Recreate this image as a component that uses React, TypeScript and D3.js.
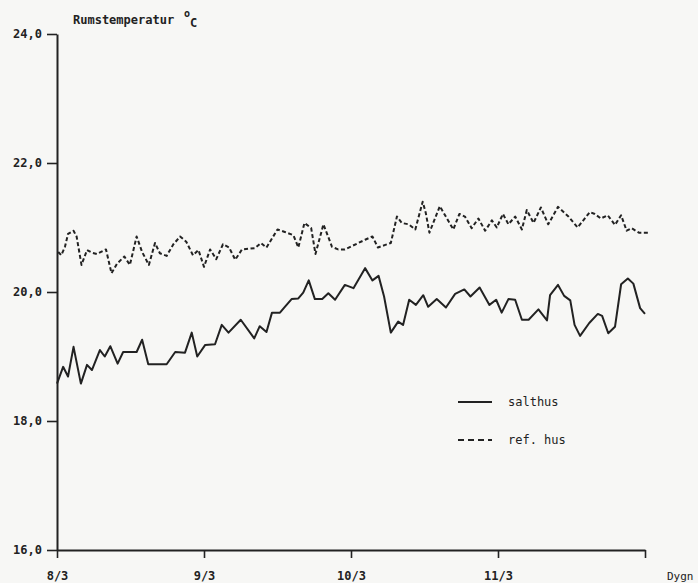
import React, { useEffect, useRef } from "react";
import * as d3 from "d3";

// Hours after 8/3 00:00 and room temperature (°C)
const saltHours = [0, 1.0, 1.8, 2.7, 3.9, 4.9, 5.7, 7.0, 7.8, 8.7, 9.9, 10.8, 13.0, 13.9, 14.9, 17.9, 19.3, 20.9, 22.0, 22.9, 24.2, 25.8, 26.9, 28.0, 30.0, 32.2, 33.1, 34.2, 35.1, 36.4, 37.2, 38.3, 39.4, 40.2, 41.1, 42.1, 43.3, 44.3, 45.4, 47.0, 48.4, 50.3, 51.5, 52.5, 53.4, 54.5, 55.7, 56.5, 57.5, 58.6, 59.8, 60.6, 62.0, 63.5, 65.0, 66.5, 67.5, 69.0, 70.6, 71.7, 72.6, 73.7, 74.8, 75.9, 77.0, 78.6, 80.0, 80.5, 81.8, 82.8, 83.8, 84.5, 85.4, 86.9, 88.3, 89.0, 90.0, 91.1, 92.1, 93.2, 94.1, 95.2, 96.0];
const saltTemp = [18.58, 18.84, 18.69, 19.15, 18.58, 18.87, 18.79, 19.10, 19.00, 19.16, 18.89, 19.07, 19.07, 19.26, 18.88, 18.88, 19.07, 19.06, 19.37, 19.00, 19.18, 19.19, 19.49, 19.37, 19.57, 19.28, 19.47, 19.38, 19.68, 19.68, 19.77, 19.89, 19.90, 19.99, 20.18, 19.89, 19.89, 19.98, 19.88, 20.11, 20.06, 20.37, 20.18, 20.25, 19.93, 19.37, 19.54, 19.49, 19.88, 19.80, 19.95, 19.77, 19.89, 19.76, 19.97, 20.04, 19.93, 20.07, 19.80, 19.88, 19.68, 19.89, 19.88, 19.57, 19.57, 19.73, 19.56, 19.95, 20.11, 19.94, 19.87, 19.49, 19.32, 19.52, 19.66, 19.63, 19.36, 19.46, 20.12, 20.21, 20.13, 19.75, 19.66];

const refHours = [0.2, 0.7, 1.3, 1.8, 2.7, 3.2, 4.0, 4.9, 5.7, 6.5, 8.0, 8.9, 9.8, 11.0, 11.9, 13.0, 13.9, 15.0, 16.0, 16.8, 17.9, 19.0, 20.1, 21.1, 22.2, 23.1, 24.0, 25.0, 26.0, 27.1, 28.1, 29.1, 30.2, 32.3, 33.3, 34.2, 36.0, 37.2, 38.6, 39.4, 40.4, 41.5, 42.2, 43.5, 44.9, 45.9, 47.0, 50.3, 51.5, 52.4, 53.6, 54.5, 55.5, 56.3, 57.4, 58.5, 59.7, 60.2, 60.8, 62.5, 64.7, 65.7, 66.6, 67.7, 68.8, 69.9, 71.0, 71.8, 72.8, 73.7, 74.8, 75.9, 76.7, 77.8, 79.0, 80.2, 81.8, 83.5, 85.0, 87.0, 87.8, 88.8, 89.9, 91.1, 92.1, 93.0, 93.8, 95.0, 96.5];
const refTemp = [20.62, 20.57, 20.70, 20.90, 20.95, 20.86, 20.42, 20.65, 20.61, 20.59, 20.66, 20.29, 20.44, 20.55, 20.42, 20.86, 20.62, 20.42, 20.76, 20.60, 20.56, 20.74, 20.86, 20.78, 20.57, 20.65, 20.39, 20.66, 20.51, 20.74, 20.69, 20.50, 20.66, 20.68, 20.76, 20.69, 20.97, 20.93, 20.88, 20.69, 21.07, 20.99, 20.59, 21.05, 20.70, 20.66, 20.66, 20.81, 20.86, 20.69, 20.73, 20.76, 21.17, 21.07, 21.05, 20.97, 21.40, 21.23, 20.92, 21.33, 20.97, 21.21, 21.17, 20.99, 21.14, 20.95, 21.11, 21.00, 21.21, 21.05, 21.17, 20.97, 21.27, 21.07, 21.31, 21.05, 21.32, 21.17, 21.00, 21.24, 21.21, 21.14, 21.19, 21.04, 21.19, 20.95, 20.99, 20.92, 20.92];

const yTicks = [16, 18, 20, 22, 24];
const xTicks = [0, 24, 48, 72, 96];
const xTickLabels = ["8/3", "9/3", "10/3", "11/3", ""];
const legendLabels = ["salthus", "ref. hus"];

const W = 698;
const H = 583;
const INK = "#222";
const FONT = "'DejaVu Sans Mono', monospace";

export default function App() {
  const xAxisRef = useRef<SVGGElement>(null);
  const yAxisRef = useRef<SVGGElement>(null);

  const x = d3.scaleLinear().domain([0, 96]).range([57, 645]);
  const y = d3.scaleLinear().domain([16, 24]).range([550, 34]);

  const line = d3
    .line<[number, number]>()
    .x((d) => x(d[0]))
    .y((d) => y(d[1]));

  const saltPts = saltHours.map((h, i) => [h, saltTemp[i]] as [number, number]);
  const refPts = refHours.map((h, i) => [h, refTemp[i]] as [number, number]);

  useEffect(() => {
    if (yAxisRef.current) {
      const g = d3.select(yAxisRef.current);
      g.call(
        d3
          .axisLeft(y)
          .tickValues(yTicks)
          .tickSize(10)
          .tickSizeOuter(0)
          .tickPadding(5)
          .tickFormat((d) => d3.format(".1f")(d as number).replace(".", ","))
      );
      g.select(".domain").attr("stroke", INK).attr("stroke-width", 2);
      g.selectAll(".tick line").attr("stroke", INK).attr("stroke-width", 1.6);
      g.selectAll(".tick text")
        .attr("fill", INK)
        .attr("font-family", FONT)
        .attr("font-weight", "bold")
        .attr("font-size", 12);
    }
    if (xAxisRef.current) {
      const g = d3.select(xAxisRef.current);
      g.call(
        d3
          .axisBottom(x)
          .tickValues(xTicks)
          .tickSize(8)
          .tickSizeOuter(0)
          .tickPadding(13)
          .tickFormat((d, i) => xTickLabels[i])
      );
      g.select(".domain").attr("stroke", INK).attr("stroke-width", 2);
      g.selectAll(".tick line").attr("stroke", INK).attr("stroke-width", 1.6);
      g.selectAll(".tick text")
        .attr("fill", INK)
        .attr("font-family", FONT)
        .attr("font-weight", "bold")
        .attr("font-size", 12);
    }
  });

  return (
    <svg
      width={W}
      height={H}
      style={{ position: "absolute", left: 0, top: 0 }}
    >
      <rect x={0} y={0} width={W} height={H} fill="#f7f7f5" />
      <text x={73} y={24} fill={INK} fontFamily={FONT} fontWeight="bold" fontSize={12}>
        Rumstemperatur
      </text>
      <text x={184} y={17} fill={INK} fontFamily={FONT} fontWeight="bold" fontSize={10}>
        o
      </text>
      <text x={190} y={27} fill={INK} fontFamily={FONT} fontWeight="bold" fontSize={12}>
        C
      </text>

      <g ref={yAxisRef} transform={`translate(${x(0)},0)`} />
      <g ref={xAxisRef} transform={`translate(0,${y(16)})`} />

      <text x={667} y={580} fill={INK} fontFamily={FONT} fontSize={11}>
        Dygn
      </text>

      <path
        d={line(refPts) || ""}
        fill="none"
        stroke={INK}
        strokeWidth={2}
        strokeDasharray="4 2.5"
        strokeLinejoin="round"
      />
      <path
        d={line(saltPts) || ""}
        fill="none"
        stroke={INK}
        strokeWidth={2}
        strokeLinejoin="round"
      />

      <g fontFamily={FONT} fontSize={12} fill={INK}>
        <line x1={458} x2={492} y1={402} y2={402} stroke={INK} strokeWidth={2} />
        <text x={508} y={406}>{legendLabels[0]}</text>
        <line x1={458} x2={492} y1={440} y2={440} stroke={INK} strokeWidth={2} strokeDasharray="6 4" />
        <text x={508} y={444}>{legendLabels[1]}</text>
      </g>
    </svg>
  );
}
